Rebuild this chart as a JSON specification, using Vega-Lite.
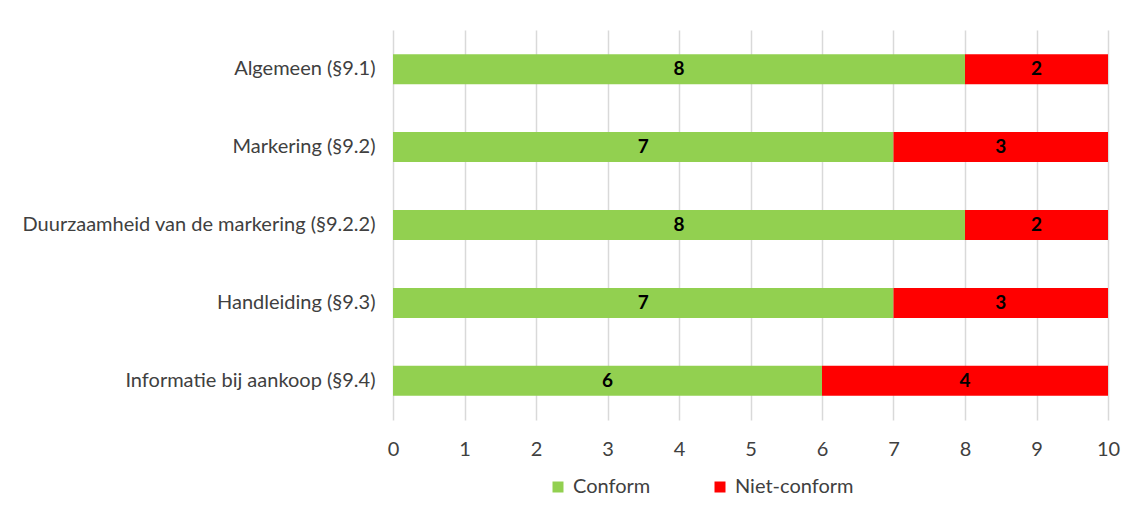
{
  "$schema": "https://vega.github.io/schema/vega-lite/v6.json",
  "autosize": {"type": "none"},
  "width": 715,
  "height": 390,
  "padding": {"left": 393, "top": 30, "right": 26, "bottom": 94},
  "background": "white",
  "config": {
    "font": "Lato",
    "view": {"stroke": null},
    "axis": {"labelFont": "Lato", "labelFontSize": 20, "labelColor": "#404040", "ticks": false, "domain": false}
  },
  "data": {
    "values": [
      {"cat": "Algemeen (§9.1)", "status": "Conform", "value": 8},
      {"cat": "Algemeen (§9.1)", "status": "Niet-conform", "value": 2},
      {"cat": "Markering (§9.2)", "status": "Conform", "value": 7},
      {"cat": "Markering (§9.2)", "status": "Niet-conform", "value": 3},
      {"cat": "Duurzaamheid van de markering (§9.2.2)", "status": "Conform", "value": 8},
      {"cat": "Duurzaamheid van de markering (§9.2.2)", "status": "Niet-conform", "value": 2},
      {"cat": "Handleiding (§9.3)", "status": "Conform", "value": 7},
      {"cat": "Handleiding (§9.3)", "status": "Niet-conform", "value": 3},
      {"cat": "Informatie bij aankoop (§9.4)", "status": "Conform", "value": 6},
      {"cat": "Informatie bij aankoop (§9.4)", "status": "Niet-conform", "value": 4}
    ]
  },
  "transform": [
    {"stack": "value", "groupby": ["cat"], "sort": [{"field": "status"}], "as": ["v0", "v1"]},
    {"calculate": "(datum.v0 + datum.v1) / 2", "as": "mid"}
  ],
  "encoding": {
    "y": {
      "field": "cat", "type": "nominal", "title": null, "sort": null,
      "scale": {"paddingInner": 0.615, "paddingOuter": 0.31},
      "axis": {"labelPadding": 18, "grid": false, "labelLimit": 400}
    }
  },
  "layer": [
    {
      "mark": {"type": "bar"},
      "encoding": {
        "x": {
          "field": "v0", "type": "quantitative", "title": null,
          "scale": {"domain": [0, 10], "nice": false},
          "axis": {"values": [0,1,2,3,4,5,6,7,8,9,10], "format": "d", "labelOverlap": false, "grid": true, "gridColor": "#d9d9d9", "gridWidth": 1.5, "labelPadding": 19, "labelFlush": false}
        },
        "x2": {"field": "v1"},
        "color": {
          "field": "status", "type": "nominal", "title": null,
          "scale": {"domain": ["Conform", "Niet-conform"], "range": ["#92D050", "#FF0000"]},
          "legend": {
            "orient": "none", "legendX": 155, "legendY": 447, "direction": "horizontal",
            "symbolType": "square", "symbolSize": 121, "symbolStrokeWidth": 0,
            "labelFont": "Lato", "labelFontSize": 20, "labelColor": "#404040",
            "labelOffset": 5, "columnPadding": 59
          }
        }
      }
    },
    {
      "mark": {"type": "text", "font": "Lato", "fontSize": 19, "fontWeight": "bold", "color": "#000000", "baseline": "middle", "align": "center"},
      "encoding": {
        "x": {"field": "mid", "type": "quantitative"},
        "text": {"field": "value", "type": "quantitative"}
      }
    }
  ]
}
